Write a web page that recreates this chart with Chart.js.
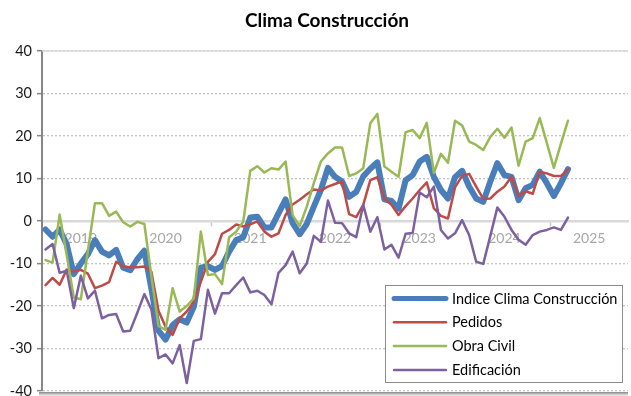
<!DOCTYPE html>
<html>
<head>
<meta charset="utf-8">
<script src="https://cdn.jsdelivr.net/npm/chart.js@4.4.1/dist/chart.umd.min.js"></script>
<style>
  html, body { margin: 0; padding: 0; background: #fff; }
  #chart { display: block; }
</style>
</head>
<body>
<canvas id="chart" width="631" height="396"></canvas>
<script>
// Eje de meses: ago-2018 .. jun-2025, solo se rotula enero con el año
const firstYear = 2018;
const firstMonth = 8;
const monthCount = 83;
const yearTicks = ['2019', '2020', '2021', '2022', '2023', '2024', '2025'];

const indiceClima = [
  -2, -3.7, -2, -5.5, -12.5, -10, -7.8, -4.5, -7.2, -8.1,
  -6.8, -11, -11.6, -9, -7, -16, -25.8, -27.9, -24.5, -23.1,
  -23.9, -20.2, -11, -10.6, -11.5, -10.6, -7.2, -4.5, -3.8, 0.8,
  1, -1.5, -1.5, 1.8, 5.1, -0.5, -3.1, -0.7, 3.4, 7.3,
  12.5, 10.4, 9.3, 5.7, 6.8, 10.5, 12.3, 13.8, 5.1, 4.7,
  2.9, 9.6, 10.8, 14, 15.1, 10.4, 7.3, 5.3, 10.3, 11.8,
  8.1, 5.3, 4.5, 9.3, 13.6, 10.8, 10.4, 4.9, 7.7, 8.5,
  11.6, 8.9, 5.9, 8.9, 12.2
];
const pedidos = [
  -15.1, -13.4, -15, -11.4, -11.9, -11.5, -12.4, -15.8, -15.2, -14.4,
  -9.6, -10.7, -10.9, -10.9, -10.7, -12, -21.1, -24.9, -26.8, -22.9,
  -21.3, -19, -14.3, -9.6, -7.8, -3, -2.1, -0.8, -1.3, -0.8,
  -0.1, -2.5, -3.7, -2.9, 1.4, 3.9, 5, 6.3, 7.4, 7.2,
  8.1, 8.7, 9.3, 1.6, 0.9, 3.8, 9.6, 10.3, 5.3, 3.8,
  1.4, 3.5, 5.3, 7.3, 9.1, 3, 1.2, 0.6, 7.9, 10.6,
  11.1, 8.1, 5.2, 5.3, 6.9, 8.1, 10.4, 5.9, 7, 6.4,
  11.6, 11.2, 10.6, 10.6, 12.1
];
const obraCivil = [
  -9.2, -9.8, 1.5, -8, -18, -18.4, -7, 4.2, 4.2, 1.2,
  2.2, -0.3, -1.3, -0.2, -0.7, -13, -24.7, -25.6, -15.8, -21.3,
  -20, -18.2, -2.5, -12.7, -12.5, -14.8, -3.8, -2.5, -0.2, 11.8,
  12.9, 11.4, 12.4, 12.1, 14, 1.4, -1.2, 3.4, 8.9, 14,
  15.9, 17.3, 17.3, 10.6, 11.2, 12.4, 23, 25.2, 12.8, 11.6,
  10.4, 20.9, 21.4, 19.5, 23.1, 11.3, 15.8, 13.7, 23.6, 22.5,
  18.7, 17.9, 16.7, 19.8, 21.7, 19.6, 22, 13, 18.7, 19.5,
  24.2, 18.4, 12.5, 18.2, 23.6
];
const edificacion = [
  -6.7, -5.4, -12.2, -11.7, -20.5, -12.9, -18.2, -16.4, -22.9, -22.1,
  -21.9, -26, -25.8, -21.6, -17.2, -20.8, -32.3, -31.4, -33.5, -29.2,
  -38.1, -28.2, -27.8, -16.2, -21.8, -17, -17, -15.1, -13.3, -16.8,
  -16.4, -17.4, -19.6, -12.2, -10.4, -7.2, -12.3, -10, -3.5, -4.9,
  4.8, -0.4, -0.5, -2.9, -3.8, 3.8, -2.5, 0.9, -6.7, -5.6,
  -8.6, -3, -2.8, 6.7, 5.6, 8.1, -2.1, -4.1, -2.9, 0.2,
  -3.3, -9.6, -10.1, -3.5, 3.2, 1, -2.1, -4.4, -5.6, -3.3,
  -2.5, -2.1, -1.5, -2.1, 0.8
];

const FONT = 'Lato, "DejaVu Sans", sans-serif';

// etiquetas "AAAA-MM" para cada mes del eje
const months = [];
for (let i = 0; i < monthCount; i++) {
  const k = firstMonth - 1 + i;
  const mm = String(k % 12 + 1).padStart(2, '0');
  months.push((firstYear + Math.floor(k / 12)) + '-' + mm);
}

// título centrado sobre el gráfico
const tituloPlugin = {
  id: 'titulo',
  afterDraw(chart) {
    const ctx = chart.ctx;
    ctx.save();
    ctx.font = 'bold 19px ' + FONT;
    ctx.fillStyle = '#000';
    ctx.textAlign = 'center';
    ctx.textBaseline = 'alphabetic';
    ctx.fillText('Clima Construcción', 327, 27);
    ctx.restore();
  }
};

// sombra bajo el área de trazado
const sombraPlugin = {
  id: 'sombra',
  beforeDatasetsDraw(chart) {
    const { ctx, chartArea: { left, right, top, bottom } } = chart;
    ctx.save();
    const g = ctx.createLinearGradient(0, bottom + 1, 0, bottom + 6);
    g.addColorStop(0, 'rgba(90,90,90,0.75)');
    g.addColorStop(1, 'rgba(160,160,160,0)');
    ctx.fillStyle = g;
    ctx.fillRect(left - 3, bottom + 1, right - left + 3, 5);
    ctx.strokeStyle = '#d9d9d9';
    ctx.lineWidth = 1.5;
    ctx.beginPath();
    ctx.moveTo(left, top);
    ctx.lineTo(right, top);
    ctx.stroke();
    ctx.restore();
  }
};

// leyenda en recuadro, abajo a la derecha
const leyendaPlugin = {
  id: 'leyenda',
  afterDraw(chart) {
    const ctx = chart.ctx;
    const bx = 385, by = 285, bw = 237, bh = 97;
    ctx.save();
    ctx.fillStyle = '#fff';
    ctx.fillRect(bx, by, bw, bh);
    ctx.strokeStyle = '#8c8c8c';
    ctx.lineWidth = 1;
    ctx.strokeRect(bx + 0.5, by + 0.5, bw, bh);
    ctx.font = '14.5px ' + FONT;
    ctx.textBaseline = 'middle';
    ctx.textAlign = 'left';
    chart.data.datasets.forEach((ds, i) => {
      const y = 298.5 + i * 23.8;
      ctx.strokeStyle = ds.borderColor;
      ctx.lineWidth = i === 0 ? 5 : 2.5;
      ctx.lineCap = 'round';
      ctx.beginPath();
      ctx.moveTo(394, y);
      ctx.lineTo(446, y);
      ctx.stroke();
      ctx.fillStyle = '#000';
      ctx.fillText(ds.label, 452, y + 0.5);
    });
    ctx.restore();
  }
};

new Chart(document.getElementById('chart'), {
  type: 'line',
  data: {
    labels: months,
    datasets: [
      { label: 'Indice Clima Construcción', data: indiceClima, borderColor: '#4A7EBB', borderWidth: 6, order: 4 },
      { label: 'Pedidos', data: pedidos, borderColor: '#BE4B48', borderWidth: 2.5, order: 3 },
      { label: 'Obra Civil', data: obraCivil, borderColor: '#98B954', borderWidth: 2.5, order: 2 },
      { label: 'Edificación', data: edificacion, borderColor: '#7D60A0', borderWidth: 2.5, order: 1 }
    ]
  },
  options: {
    responsive: false,
    animation: false,
    layout: { padding: { left: 0, right: 3, top: 51, bottom: 5 } },
    elements: {
      point: { radius: 0 },
      line: { tension: 0, borderJoinStyle: 'round', borderCapStyle: 'round', fill: false }
    },
    plugins: {
      legend: { display: false },
      title: { display: false },
      tooltip: { enabled: false }
    },
    scales: {
      x: {
        position: { y: 0 },
        offset: true,
        grid: {
          offset: true,
          drawOnChartArea: false,
          tickLength: 4,
          tickWidth: 1.5,
          tickColor: c => [24, 48, 72].includes(c.index) ? '#c8c8c8' : 'rgba(0,0,0,0)'
        },
        border: { color: '#d9d9d9', width: 2.5 },
        ticks: {
          autoSkip: false,
          maxRotation: 0,
          padding: 5,
          color: '#a6a6a6',
          font: { family: FONT, size: 14 },
          callback: function (value, index) {
            const m = months[index];
            const year = m.slice(0, 4);
            return m.endsWith('-01') && yearTicks.includes(year) ? year : '';
          }
        }
      },
      y: {
        min: -40,
        max: 40,
        ticks: {
          stepSize: 10,
          padding: 5,
          color: '#1a1a1a',
          font: { family: FONT, size: 14.5 }
        },
        grid: {
          color: '#c4c4c4',
          lineWidth: 1.3,
          tickLength: 5,
          tickColor: '#868686',
          tickWidth: 1.5,
          tickBorderDash: []
        },
        border: { color: '#868686', width: 2, dash: [2, 2] },
        afterFit(scale) {
          scale.width = 42;
          scale.paddingTop = 0;
          scale.paddingBottom = 0;
        }
      }
    }
  },
  plugins: [sombraPlugin, tituloPlugin, leyendaPlugin]
});
</script>
</body>
</html>
